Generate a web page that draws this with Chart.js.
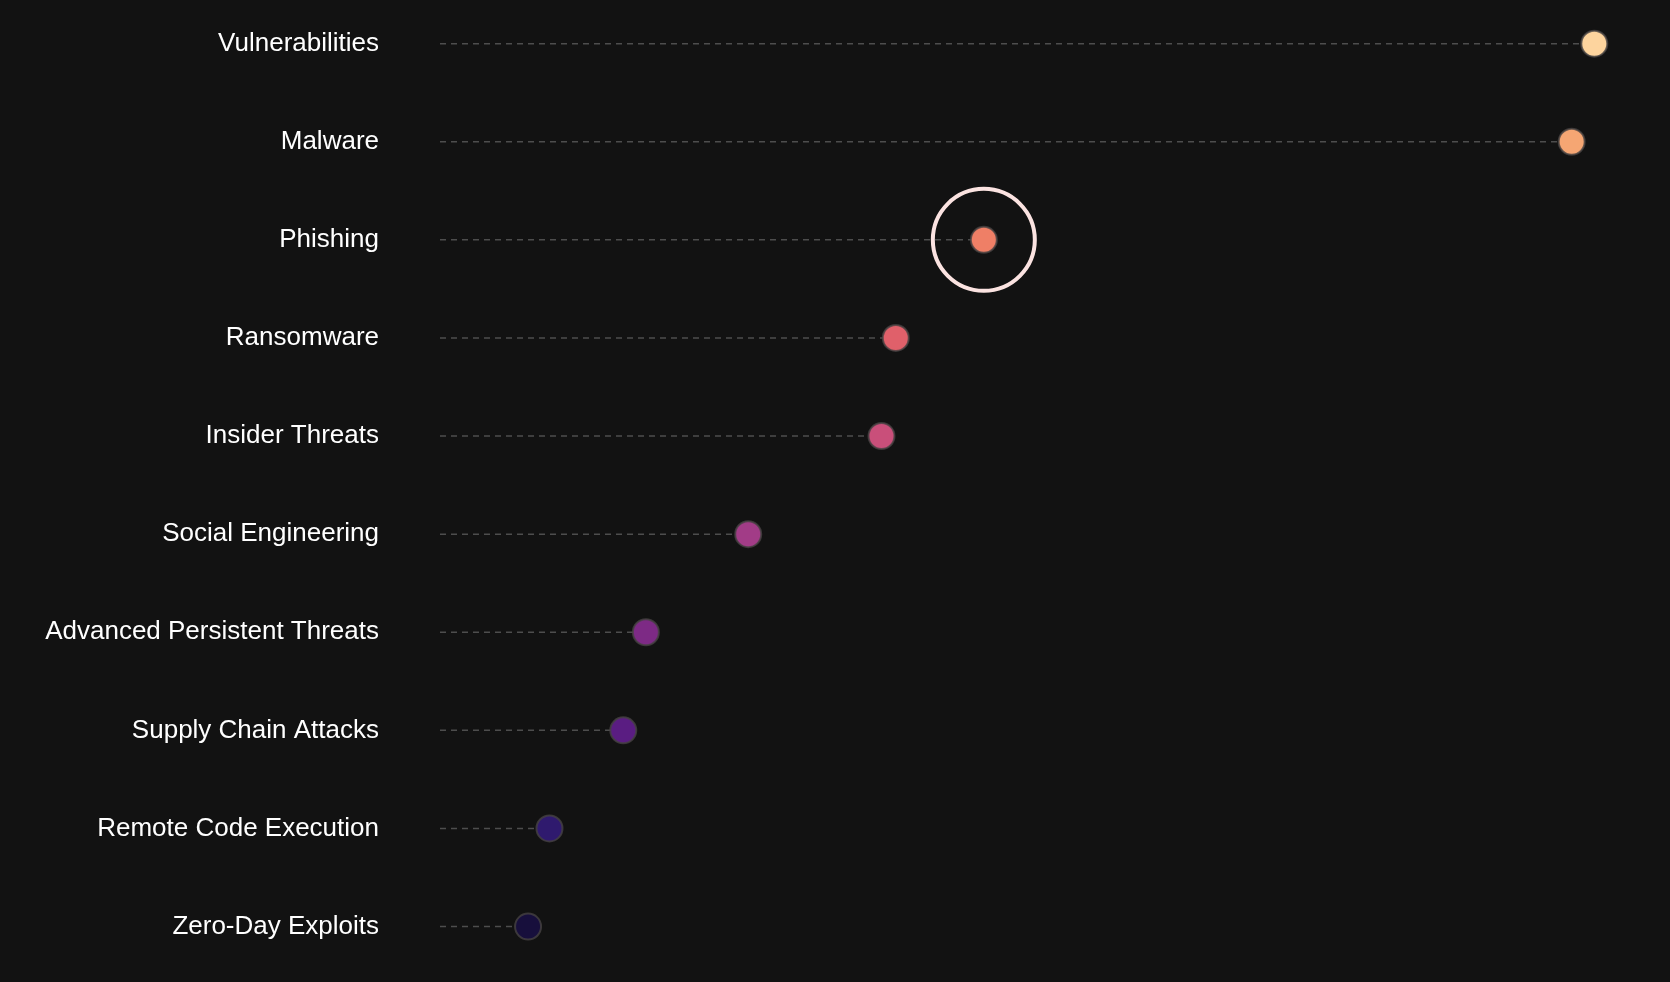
<!DOCTYPE html>
<html>
<head>
<meta charset="utf-8">
<script src="https://cdn.jsdelivr.net/npm/chart.js@4.4.0/dist/chart.umd.min.js"></script>
<style>
  html, body { margin: 0; padding: 0; background: #121212; }
  canvas { display: block; }
</style>
</head>
<body>
<canvas id="lollipop" width="1670" height="982"></canvas>
<script>
// threat categories, top to bottom
let categories = ['Vulnerabilities', 'Malware', 'Phishing', 'Ransomware', 'Insider Threats',
    'Social Engineering', 'Advanced Persistent Threats', 'Supply Chain Attacks',
    'Remote Code Execution', 'Zero-Day Exploits'];
let values = [97, 95.1, 45.7, 38.3, 37.1, 25.9, 17.3, 15.4, 9.2, 7.4];
let dotColors = ['#fdd49e', '#f5a673', '#ef7f66', '#e0606a', '#c94f7a',
    '#a23c87', '#7d2a85', '#5a1d82', '#2f1a6e', '#170f3c'];
let highlighted = ['Phishing'];

let points = [];
for (let i = 0; i < categories.length; i++){
    points.push({x: values[i], y: i});
}

let rings = [];
for (let i = 0; i < categories.length; i++){
    if (highlighted.includes(categories[i])){
        rings.push({x: values[i], y: i});
    }
}

// dashed stem from zero to each dot
const stems = {
    id: 'stems',
    beforeDatasetsDraw(chart) {
        let ctx = chart.ctx;
        let xs = chart.scales.x, ys = chart.scales.y;
        ctx.save();
        ctx.strokeStyle = 'rgba(255,255,255,0.25)';
        ctx.lineWidth = 1.5;
        ctx.setLineDash([6, 5]);
        for (let i = 0; i < values.length; i++){
            let y = ys.getPixelForValue(i);
            ctx.beginPath();
            ctx.moveTo(xs.getPixelForValue(0), y);
            ctx.lineTo(xs.getPixelForValue(values[i]), y);
            ctx.stroke();
        }
        ctx.restore();
    }
};

let cux = document.getElementById('lollipop').getContext('2d');
new Chart(cux, {
    type: 'scatter',
    data: {
        datasets: [{
            data: points,
            pointRadius: 13,
            pointHoverRadius: 13,
            backgroundColor: dotColors,
            borderColor: 'rgba(70,66,66,0.8)',
            borderWidth: 2,
            clip: false
        }, {
            data: rings,
            pointRadius: 51,
            pointHoverRadius: 51,
            backgroundColor: 'rgba(0,0,0,0)',
            borderColor: '#fbe3e1',
            borderWidth: 4,
            clip: false
        }]
    },
    options: {
        responsive: false,
        animation: false,
        events: [],
        layout: { autoPadding: false, padding: { left: 0, right: 40, top: 0, bottom: 0 } },
        plugins: { legend: { display: false }, tooltip: { enabled: false } },
        scales: {
            x: {
                type: 'linear',
                min: 0,
                max: 100,
                bounds: 'data',
                display: false
            },
            y: {
                type: 'linear',
                reverse: true,
                bounds: 'data',
                min: -0.445,
                max: 9.565,
                grid: { display: false, drawTicks: false },
                border: { display: false },
                afterBuildTicks(scale) {
                    scale.ticks = categories.map((c, i) => ({ value: i }));
                },
                afterFit(scale) {
                    scale.width = 440;
                    scale.paddingTop = 0;
                    scale.paddingBottom = 0;
                },
                ticks: {
                    autoSkip: false,
                    padding: 61,
                    color: '#ffffff',
                    font: { family: '"Liberation Sans", Arial, sans-serif', size: 26 },
                    callback: (v) => categories[v]
                }
            }
        }
    },
    plugins: [stems]
});
</script>
</body>
</html>
